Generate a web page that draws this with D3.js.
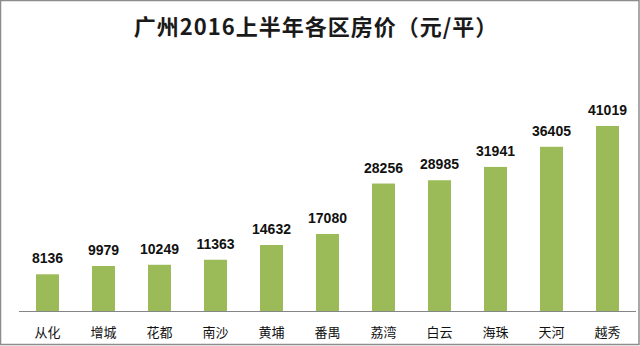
<!DOCTYPE html>
<html><head><meta charset="utf-8">
<script src="https://cdn.jsdelivr.net/npm/d3@7"></script>
<style>html,body{margin:0;padding:0;background:#fff;}svg{display:block;}</style>
</head><body>
<script>
const categories = ["从化","增城","花都","南沙","黄埔","番禺","荔湾","白云","海珠","天河","越秀"];
const values = [8136,9979,10249,11363,14632,17080,28256,28985,31941,36405,41019];
const title = "广州2016上半年各区房价（元/平）";

const W = 640, H = 346;
const svg = d3.select("body").append("svg").attr("width", W).attr("height", H);
svg.append("rect").attr("x",0.5).attr("y",0.5).attr("width",W-1.5).attr("height",H-2)
  .attr("fill","#fff").attr("stroke","#8c8c8c").attr("stroke-width",1.5);

const x = d3.scaleBand().domain(categories).range([19.5, 635.5]).paddingInner(0.59).paddingOuter(0.295);
const y = d3.scaleLinear().domain([0, 45000]).range([311, 108]);

svg.append("text").attr("x", 316).attr("y", 35).attr("text-anchor","middle")
  .attr("font-family","'Noto Sans CJK SC', sans-serif").attr("font-weight","bold")
  .attr("font-size", 22).attr("letter-spacing", 1).attr("fill","#1a1a1a").text(title);

svg.selectAll("rect.bar").data(values).enter().append("rect").attr("class","bar")
  .attr("x",(d,i)=>x(categories[i])).attr("width",x.bandwidth())
  .attr("y",d=>y(d)).attr("height",d=>y(0)-y(d)).attr("fill","#9bbb59");

svg.selectAll("text.val").data(values).enter().append("text").attr("class","val")
  .attr("x",(d,i)=>x(categories[i])+x.bandwidth()/2).attr("y",d=>y(d)-11)
  .attr("text-anchor","middle").attr("font-family","'Liberation Sans', Arial, sans-serif")
  .attr("font-weight","bold").attr("font-size",14).attr("fill","#111").text(d=>d);

const axis = d3.axisBottom(x).tickSize(0).tickPadding(17);
const g = svg.append("g").attr("transform",`translate(0,${y(0)})`).call(axis);
g.select(".domain").attr("stroke","#868686").attr("d","M19,0.5H636");
g.selectAll("text").attr("font-family","'Noto Sans CJK SC', sans-serif")
  .attr("font-size",13).attr("fill","#111");
</script>
</body></html>
